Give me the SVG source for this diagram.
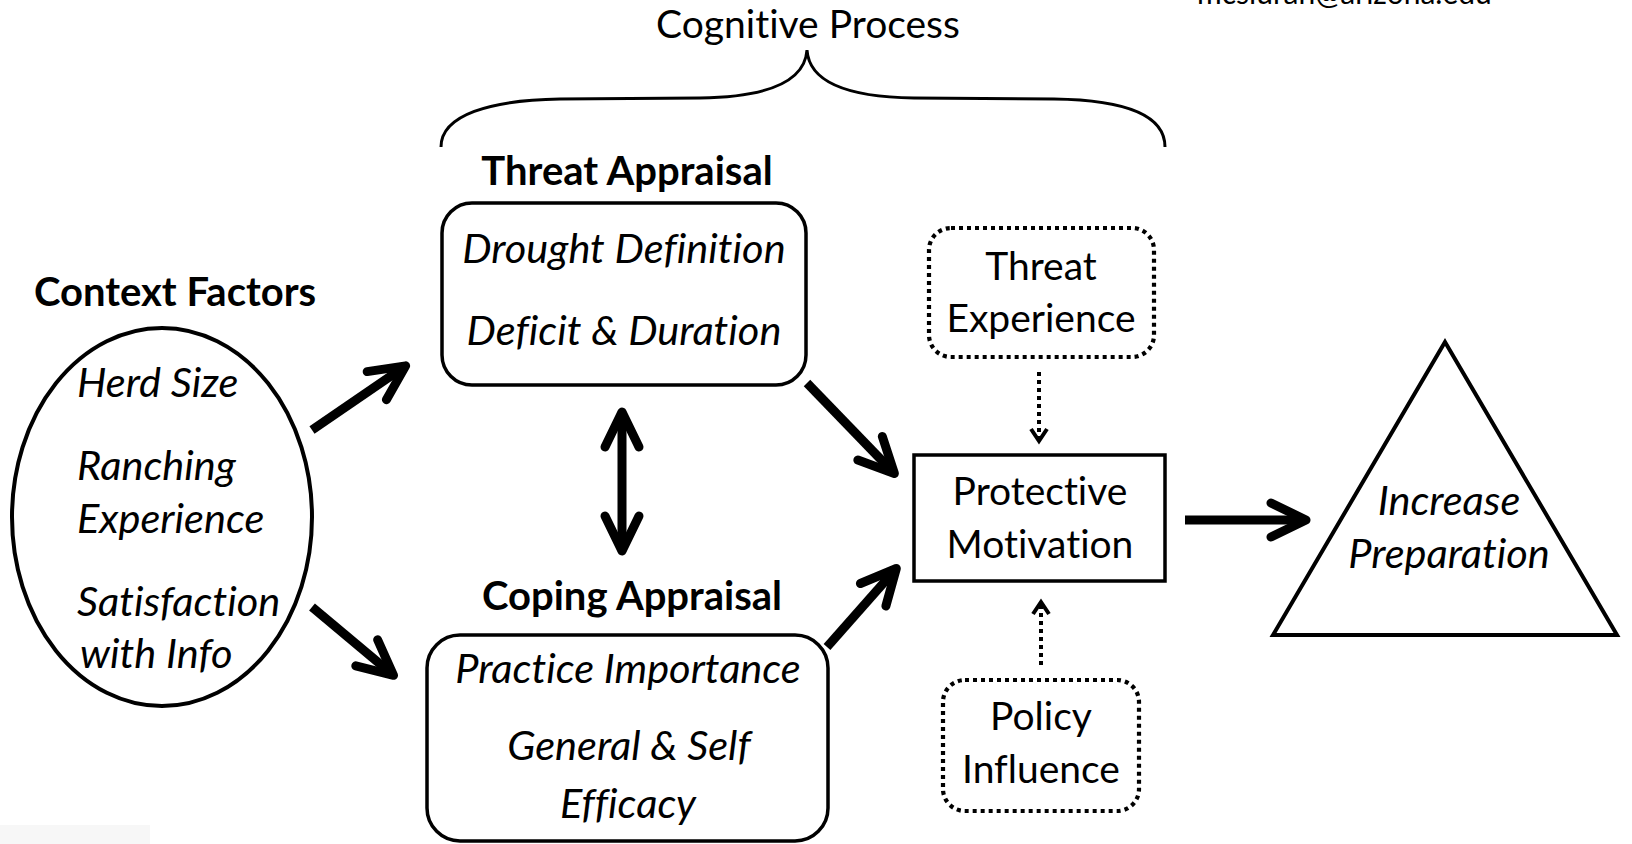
<svg xmlns="http://www.w3.org/2000/svg" width="1632" height="844" viewBox="0 0 1632 844">
<style>
  text { font-family: Lato, "Open Sans", "Liberation Sans", sans-serif; fill: #000; font-size: 39px; font-variant-ligatures: none; }
  .b { font-weight: bold; font-size: 40px; }
  .i { font-style: italic; font-size: 41.5px; }
  .c { text-anchor: middle; }
  .shape { fill: #fff; stroke: #000; stroke-width: 3.5; }
  .dot { fill: #fff; stroke: #000; stroke-width: 4.2; stroke-dasharray: 4 4; }
  .arr { fill: none; stroke: #000; stroke-width: 9; marker-end: url(#ah); }
  .darr { fill: none; stroke: #000; stroke-width: 4; stroke-dasharray: 4 4; marker-end: url(#ahs); }
</style>
<defs>
  <marker id="ah" markerUnits="userSpaceOnUse" markerWidth="80" markerHeight="80" refX="0" refY="0" orient="auto-start-reverse" overflow="visible">
    <path d="M-33,-17 L2,0 L-33,17" fill="none" stroke="#000" stroke-width="9" stroke-linecap="round" stroke-linejoin="round"/>
  </marker>
  <marker id="ahs" markerUnits="userSpaceOnUse" markerWidth="30" markerHeight="30" refX="0" refY="0" orient="auto" overflow="visible">
    <path d="M-11,-8 L1,0 L-11,8" fill="none" stroke="#000" stroke-width="4" stroke-linejoin="miter"/>
  </marker>
</defs>
<rect width="1632" height="844" fill="#fff"/>
<rect x="0" y="825" width="150" height="19" fill="#f7f7f7"/>
<text x="1197" y="4" style="font-size:30px">mcsiuran@arizona.edu</text>

<g id="cognitive-process">
  <text class="c" x="808" y="38">Cognitive Process</text>
  <path d="M441 147 C441 115 490 100 560 99 L700 98 C770 97 805 80 807 50 C809 80 844 97 914 98 L1054 99 C1124 100 1165 115 1165 147" fill="none" stroke="#000" stroke-width="3"/>
</g>

<g id="context-factors">
  <text class="b c" x="175" y="306">Context Factors</text>
  <ellipse class="shape" cx="162" cy="517" rx="150" ry="189" style="stroke-width:4"/>
  <text class="i" x="77" y="397">Herd Size</text>
  <text class="i" x="77" y="480">Ranching</text>
  <text class="i" x="77" y="533">Experience</text>
  <text class="i" x="77" y="616">Satisfaction</text>
  <text class="i" x="80" y="668">with Info</text>
</g>

<g id="threat-appraisal">
  <text class="b c" x="627" y="185">Threat Appraisal</text>
  <rect class="shape" x="442" y="203" width="364" height="182" rx="30"/>
  <text class="i c" x="624" y="263">Drought Definition</text>
  <text class="i c" x="624" y="345">Deficit &amp; Duration</text>
</g>

<g id="coping-appraisal">
  <text class="b c" x="632" y="610">Coping Appraisal</text>
  <rect class="shape" x="427" y="635" width="401" height="206" rx="33"/>
  <text class="i c" x="628" y="683">Practice Importance</text>
  <text class="i c" x="629" y="760">General &amp; Self</text>
  <text class="i c" x="628" y="818">Efficacy</text>
</g>

<g id="protective-motivation">
  <rect class="shape" x="914" y="455" width="251" height="126" rx="0"/>
  <text class="c" x="1040" y="505">Protective</text>
  <text class="c" x="1040" y="558">Motivation</text>
</g>

<g id="threat-experience">
  <rect class="dot" x="929" y="228" width="225" height="129" rx="22"/>
  <text class="c" x="1041" y="280">Threat</text>
  <text class="c" x="1041" y="332">Experience</text>
</g>

<g id="policy-influence">
  <rect class="dot" x="943" y="680" width="196" height="131" rx="22"/>
  <text class="c" x="1041" y="730">Policy</text>
  <text class="c" x="1041" y="783">Influence</text>
</g>

<g id="increase-preparation">
  <polygon class="shape" points="1445,342 1617,635 1273,635" style="stroke-width:4;stroke-linejoin:miter"/>
  <text class="i c" x="1449" y="515">Increase</text>
  <text class="i c" x="1449" y="568">Preparation</text>
</g>

<g id="connectors">
  <path class="arr" d="M312 430 L404 367"/>
  <path class="arr" d="M312 607 L392 674"/>
  <path class="arr" d="M622 414 L622 549" style="marker-start:url(#ah)"/>
  <path class="arr" d="M807 383 L893 472"/>
  <path class="arr" d="M827 647 L895 570"/>
  <path class="arr" d="M1185 520 L1304 520"/>
  <path class="darr" d="M1039 372 L1039 440"/>
  <path class="darr" d="M1041 665 L1041 603"/>
</g>
</svg>
